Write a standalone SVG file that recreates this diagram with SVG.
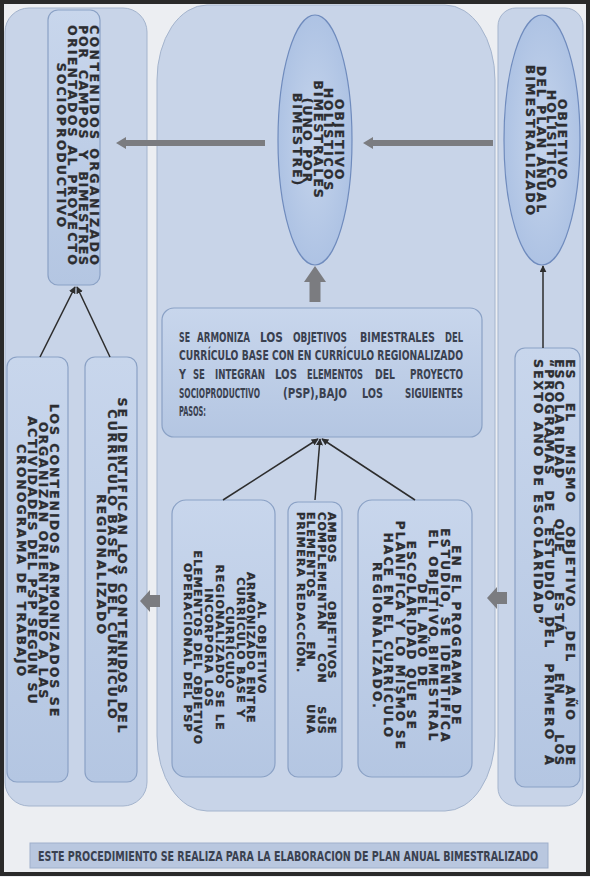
<svg xmlns="http://www.w3.org/2000/svg" width="590" height="877" viewBox="0 0 590 877">
<style>
.panel{fill:#c8d4e8;stroke:#a4b4cd;stroke-width:1}
.box{fill:url(#gbox);stroke:#8aa1c5;stroke-width:1.2}
.ell{fill:url(#gell);stroke:#6f8bbd;stroke-width:1.2}
.v{font-family:"DejaVu Sans",Verdana,sans-serif;font-weight:bold;font-size:12.5px;letter-spacing:2px;fill:#2c2d31;stroke:#2c2d31;stroke-width:0.3px}
.c{text-anchor:middle}
.s{font-size:11px;letter-spacing:1.4px}
.m{font-size:12px;letter-spacing:2.3px}
.h{font-family:"DejaVu Sans Condensed","Liberation Sans",sans-serif;font-weight:bold;font-size:13.5px;fill:#3a4150}
.conn{stroke:#2d2d2d;stroke-width:1.5;fill:none}
.blk{fill:#7b7c80}
</style>
<defs>
<linearGradient id="gbox" x1="0" y1="0" x2="0" y2="1"><stop offset="0" stop-color="#c8d6ec"/><stop offset="1" stop-color="#b4c6e2"/></linearGradient>
<radialGradient id="gell" cx="0.5" cy="0.5" r="0.6"><stop offset="0" stop-color="#c6d5ec"/><stop offset="1" stop-color="#a9bfe2"/></radialGradient>
<marker id="ah" viewBox="0 0 10 10" refX="9" refY="5" markerWidth="7" markerHeight="7" orient="auto" markerUnits="userSpaceOnUse"><path d="M0,0 L10,5 L0,10 z" fill="#2d2d2d"/></marker>
</defs>
<rect x="0" y="0" width="590" height="877" fill="#eceef2"/>
<rect x="2" y="2" width="586" height="872" fill="none" stroke="#2a2a2a" stroke-width="4"/>

<g id="panels">
<rect class="panel" x="5" y="8" width="142" height="798" rx="24"/>
<path class="panel" d="M207,5 H445 A50 75 0 0 1 495 80 V736 A50 75 0 0 1 445 811 H207 A50 75 0 0 1 157 736 V80 A50 75 0 0 1 207 5 Z"/>
<rect class="panel" x="498" y="8" width="85" height="798" rx="18"/>
</g>

<g id="n-contenidos">
<rect class="box" x="48" y="10" width="52" height="275" rx="10"/>
<g transform="rotate(90)">
<text class="v" x="25" y="-89.5" textLength="242" lengthAdjust="spacing">CONTENIDOS ORGANIZADO</text>
<text class="v" x="25" y="-78.5" textLength="242" lengthAdjust="spacing" style="word-spacing:4px">POR CAMPOS Y BIMESTRES</text>
<text class="v" x="25" y="-67.5" textLength="242" lengthAdjust="spacing">ORIENTADOS AL PROYECTO</text>
<text class="v c" x="146" y="-56.5">SOCIOPRODUCTIVO</text>
</g>
</g>

<g id="n-obj-bimestrales">
<ellipse class="ell" cx="315" cy="140" rx="37" ry="125"/>
<g transform="rotate(90)">
<text class="v c" x="140" y="-334.5">OBJETIVO</text>
<text class="v c" x="140" y="-324">HOLÍSTICOS</text>
<text class="v c" x="140" y="-313.5">BIMESTRALES</text>
<text class="v c" x="141" y="-303">(UNO POR</text>
<text class="v c" x="140" y="-292.5">BIMESTRE)</text>
</g>
</g>

<g id="n-obj-plan">
<ellipse class="ell" cx="542" cy="140" rx="38" ry="125"/>
<g transform="rotate(90)">
<text class="v c" x="140" y="-558">OBJETIVO</text>
<text class="v c" x="140" y="-547.3">HOLISITICO</text>
<text class="v c" x="140" y="-536.6">DEL PLAN ANUAL</text>
<text class="v c" x="141" y="-525.9">BIMESTRALIZADO</text>
</g>
</g>

<g id="n-mismo">
<rect class="box" x="515" y="348" width="65" height="439" rx="10"/>
<g transform="rotate(90)">
<text class="v" x="359" y="-565.5" textLength="408" lengthAdjust="spacing" style="word-spacing:16px">ES EL MISMO OBJETIVO DEL AÑO DE</text>
<text class="v" x="359" y="-555" textLength="408" lengthAdjust="spacing" style="word-spacing:32px">ESCOLARIDAD QUE ESTÁ EN LOS</text>
<text class="v" x="359" y="-544.5" textLength="408" lengthAdjust="spacing" style="word-spacing:8px">“PROGRAMAS DE ESTUDIO DEL PRIMERO A</text>
<text class="v" x="359" y="-534">SEXTO AÑO DE ESCOLARIDAD”</text>
</g>
</g>

<g id="n-armoniza">
<rect class="box" x="162" y="308" width="320" height="129" rx="12"/>
<g transform="scale(0.7,1)">
<text class="h" x="255.7" y="342" textLength="15.7" lengthAdjust="spacingAndGlyphs">SE</text>
<text class="h" x="281.4" y="342" textLength="75.7" lengthAdjust="spacingAndGlyphs">ARMONIZA</text>
<text class="h" x="371.4" y="342" textLength="32.9" lengthAdjust="spacingAndGlyphs">LOS</text>
<text class="h" x="418.6" y="342" textLength="77.1" lengthAdjust="spacingAndGlyphs">OBJETIVOS</text>
<text class="h" x="514.3" y="342" textLength="107.1" lengthAdjust="spacingAndGlyphs">BIMESTRALES</text>
<text class="h" x="635.7" y="342" textLength="25.7" lengthAdjust="spacingAndGlyphs">DEL</text>
<text class="h" x="255.7" y="360" textLength="405.7" lengthAdjust="spacingAndGlyphs">CURRÍCULO BASE CON EN CURRÍCULO REGIONALIZADO</text>
<text class="h" x="255.7" y="379" textLength="10" lengthAdjust="spacingAndGlyphs">Y</text>
<text class="h" x="275.7" y="379" textLength="17.1" lengthAdjust="spacingAndGlyphs">SE</text>
<text class="h" x="307.1" y="379" textLength="71.4" lengthAdjust="spacingAndGlyphs">INTEGRAN</text>
<text class="h" x="392.9" y="379" textLength="31.4" lengthAdjust="spacingAndGlyphs">LOS</text>
<text class="h" x="438.6" y="379" textLength="80" lengthAdjust="spacingAndGlyphs">ELEMENTOS</text>
<text class="h" x="535.7" y="379" textLength="28.6" lengthAdjust="spacingAndGlyphs">DEL</text>
<text class="h" x="585.7" y="379" textLength="75.7" lengthAdjust="spacingAndGlyphs">PROYECTO</text>
<text class="h" x="255.7" y="398" textLength="115.7" lengthAdjust="spacingAndGlyphs">SOCIOPRODUCTIVO</text>
<text class="h" x="404.3" y="398" textLength="91.4" lengthAdjust="spacingAndGlyphs">(PSP),BAJO</text>
<text class="h" x="517.1" y="398" textLength="30" lengthAdjust="spacingAndGlyphs">LOS</text>
<text class="h" x="578.6" y="398" textLength="82.9" lengthAdjust="spacingAndGlyphs">SIGUIENTES</text>
<text class="h" x="255.7" y="416" textLength="38.6" lengthAdjust="spacingAndGlyphs">PASOS:</text>
</g>
</g>

<g id="n-identifican">
<rect class="box" x="85" y="357" width="52" height="425" rx="10"/>
<g transform="rotate(90)">
<text class="v c" x="566" y="-118">SE IDENTIFICAN LOS CONTENIDOS DEL</text>
<text class="v c" x="565" y="-107.5">CURRÍCULO BASE Y DEL CURRÍCULO</text>
<text class="v c" x="565" y="-97">REGIONALIZADO</text>
</g>
</g>

<g id="n-armonizados">
<rect class="box" x="7" y="357" width="61" height="425" rx="10"/>
<g transform="rotate(90)">
<text class="v c" x="561" y="-50">LOS CONTENIDOS ARMONIZADOS SE</text>
<text class="v c" x="561" y="-39">ORGANIZAN ORIENTANDO A LAS</text>
<text class="v c" x="561" y="-28">ACTIVIDADES DEL PSP SEGÚN SU</text>
<text class="v c" x="561" y="-17">CRONOGRAMA DE TRABAJO</text>
</g>
</g>

<g id="n-al-objetivo">
<rect class="box" x="172" y="500" width="103" height="277" rx="14"/>
<g transform="rotate(90)">
<text class="v s c" x="648" y="-258">AL OBJETIVO</text>
<text class="v s c" x="648" y="-247.4">ARMONIZADO ENTRE</text>
<text class="v s c" x="648" y="-236.8">CURRÍCULO BASE Y</text>
<text class="v s c" x="648" y="-226.2">CURRÍCULO</text>
<text class="v s c" x="648" y="-215.6">REGIONALIZADO SE LE</text>
<text class="v s c" x="648" y="-205">INCORPORA LOS</text>
<text class="v s c" x="648" y="-194.4">ELEMENTOS DEL OBJETIVO</text>
<text class="v s c" x="648" y="-183.8">OPERACIONAL DEL PSP</text>
</g>
</g>

<g id="n-ambos">
<rect class="box" x="288" y="502" width="54" height="275" rx="10"/>
<g transform="rotate(90)">
<text class="v s" x="512" y="-328" textLength="223" lengthAdjust="spacing" style="word-spacing:32px">AMBOS OBJETIVOS SE</text>
<text class="v s" x="512" y="-317.5" textLength="223" lengthAdjust="spacing" style="word-spacing:17px">COMPLEMENTAN CON SUS</text>
<text class="v s" x="512" y="-307" textLength="223" lengthAdjust="spacing" style="word-spacing:38px">ELEMENTOS EN UNA</text>
<text class="v s" x="512" y="-296.5">PRIMERA REDACCIÓN.</text>
</g>
</g>

<g id="n-programa">
<rect class="box" x="358" y="500" width="114" height="277" rx="14"/>
<g transform="rotate(90)">
<text class="v m c" x="636" y="-452">EN EL PROGRAMA DE</text>
<text class="v m c" x="636" y="-440.7">ESTUDIO, SE IDENTIFICA</text>
<text class="v m c" x="636" y="-429.4">EL OBJETIVO BIMESTRAL</text>
<text class="v m c" x="636" y="-418.1">DEL AÑO DE</text>
<text class="v m c" x="636" y="-406.9">ESCOLARIDAD QUE SE</text>
<text class="v m c" x="636" y="-395.6">PLANIFICA Y LO MISMO SE</text>
<text class="v m c" x="636" y="-384.3">HACE EN EL CURRÍCULO</text>
<text class="v m c" x="636" y="-373">REGIONALIZADO.</text>
</g>
</g>

<g id="n-caption">
<rect x="30" y="843" width="518" height="25" fill="#b9c7df" stroke="#9fb0cc" stroke-width="1"/>
<g transform="scale(0.74,1)">
<text class="h" x="51.4" y="861" font-size="13" textLength="675.7" lengthAdjust="spacingAndGlyphs">ESTE PROCEDIMIENTO SE REALIZA PARA LA ELABORACION DE PLAN ANUAL BIMESTRALIZADO</text>
</g>
</g>

<g id="connectors">
<polygon class="blk" points="116,143 126,137 126,140 265,140 265,146 126,146 126,149"/>
<polygon class="blk" points="363,143 373,137 373,140 493,140 493,146 373,146 373,149"/>
<polygon class="blk" points="315,266 304,282 309.5,282 309.5,302 320.5,302 320.5,282 326,282"/>
<polygon class="blk" points="140,601 150,590 150,595 160,595 160,607 150,607 150,612"/>
<polygon class="blk" points="487,598 497,587 497,592 507,592 507,604 497,604 497,609"/>
<line class="conn" x1="40" y1="357" x2="75" y2="287" marker-end="url(#ah)"/>
<line class="conn" x1="110" y1="357" x2="77" y2="287" marker-end="url(#ah)"/>
<line class="conn" x1="223" y1="500" x2="318" y2="439" marker-end="url(#ah)"/>
<line class="conn" x1="315" y1="500" x2="320" y2="439" marker-end="url(#ah)"/>
<line class="conn" x1="415" y1="500" x2="322" y2="439" marker-end="url(#ah)"/>
<line class="conn" x1="543" y1="348" x2="543" y2="266" marker-end="url(#ah)"/>
</g>
</svg>
